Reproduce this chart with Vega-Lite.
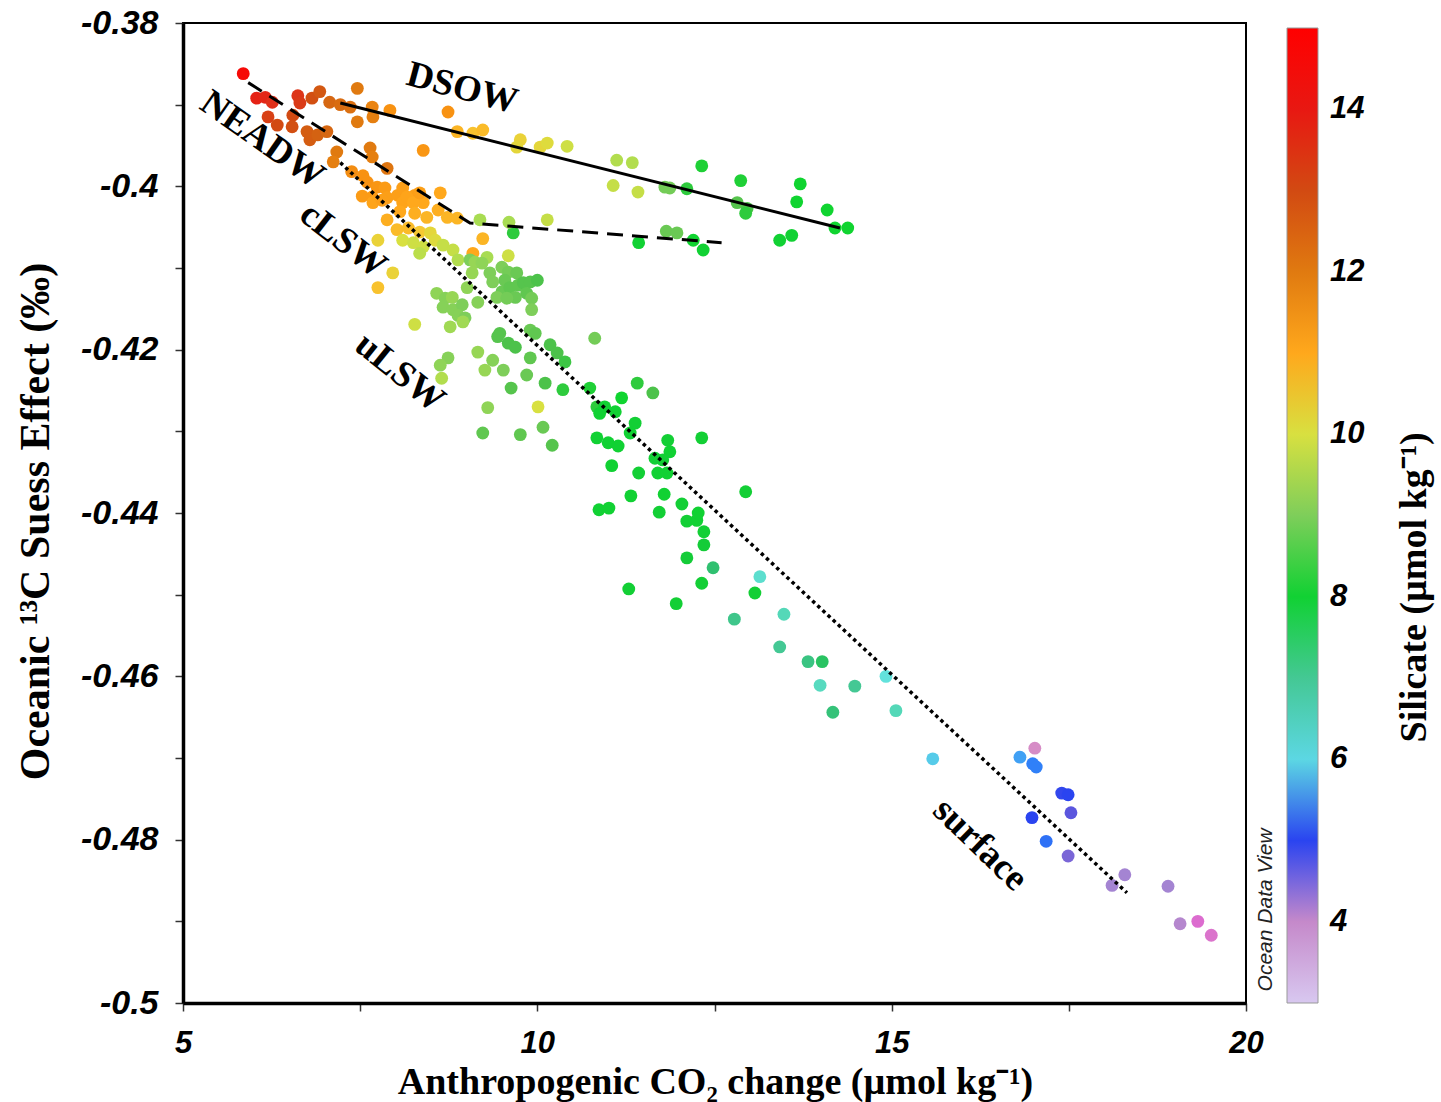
{
  "$schema": "https://vega.github.io/schema/vega-lite/v6.json",
  "autosize": {"type": "none"},
  "width": 1063,
  "height": 980,
  "padding": {"left": 183, "top": 23, "right": 195, "bottom": 99},
  "background": "white",
  "config": {
    "view": {"stroke": "black", "strokeWidth": 2},
    "axis": {
      "grid": false,
      "domainColor": "black",
      "domainWidth": 3.5,
      "tickColor": "#333",
      "tickWidth": 1.5,
      "tickSize": 8,
      "labelFlush": false,
      "labelFont": "Liberation Sans",
      "labelFontStyle": "italic",
      "labelFontWeight": "bold",
      "labelFontSize": 32,
      "labelColor": "black",
      "titleFont": "Liberation Serif",
      "titleFontWeight": "bold",
      "titleFontSize": 40,
      "titleColor": "black"
    }
  },
  "datasets": {
    "points": [
      {"co2":5.85,"suess":-0.3862,"si":14.6},{"co2":6.04,"suess":-0.3892,"si":13.8},{"co2":6.16,"suess":-0.3891,"si":13.7},{"co2":6.26,"suess":-0.3897,"si":13.5},
      {"co2":6.62,"suess":-0.3889,"si":13.4},{"co2":6.65,"suess":-0.3898,"si":13.3},{"co2":6.82,"suess":-0.3892,"si":12.9},{"co2":6.93,"suess":-0.3884,"si":12.7},
      {"co2":7.07,"suess":-0.3897,"si":12.4},{"co2":7.22,"suess":-0.39,"si":12.3},{"co2":7.36,"suess":-0.3903,"si":12.2},{"co2":7.46,"suess":-0.388,"si":12.0},
      {"co2":7.67,"suess":-0.3903,"si":11.8},{"co2":7.68,"suess":-0.3915,"si":11.9},{"co2":7.92,"suess":-0.3907,"si":11.5},{"co2":7.46,"suess":-0.3921,"si":12.0},
      {"co2":6.2,"suess":-0.3915,"si":13.2},{"co2":6.33,"suess":-0.3925,"si":13.0},{"co2":6.55,"suess":-0.3913,"si":13.0},{"co2":6.54,"suess":-0.3927,"si":12.9},
      {"co2":6.75,"suess":-0.3933,"si":12.6},{"co2":6.79,"suess":-0.3943,"si":12.6},{"co2":6.9,"suess":-0.3937,"si":12.5},{"co2":7.03,"suess":-0.3933,"si":12.4},
      {"co2":7.17,"suess":-0.3958,"si":12.0},{"co2":7.12,"suess":-0.397,"si":11.9},{"co2":7.64,"suess":-0.3953,"si":12.0},{"co2":7.67,"suess":-0.3964,"si":11.9},
      {"co2":7.88,"suess":-0.3978,"si":12.1},{"co2":8.39,"suess":-0.3956,"si":11.4},{"co2":7.38,"suess":-0.3982,"si":11.6},{"co2":7.54,"suess":-0.3987,"si":11.5},
      {"co2":7.6,"suess":-0.3995,"si":11.5},{"co2":7.53,"suess":-0.4012,"si":11.3},{"co2":7.74,"suess":-0.4001,"si":11.4},{"co2":7.85,"suess":-0.4002,"si":11.3},
      {"co2":7.67,"suess":-0.4013,"si":11.3},{"co2":7.88,"suess":-0.4014,"si":11.2},{"co2":8.03,"suess":-0.4011,"si":11.2},{"co2":8.1,"suess":-0.402,"si":11.1},
      {"co2":8.27,"suess":-0.4011,"si":11.2},{"co2":8.39,"suess":-0.402,"si":11.0},{"co2":7.68,"suess":-0.402,"si":11.1},{"co2":7.81,"suess":-0.4017,"si":11.2},
      {"co2":8.1,"suess":-0.4002,"si":11.2},{"co2":8.16,"suess":-0.4013,"si":11.1},{"co2":8.25,"suess":-0.402,"si":11.0},{"co2":8.27,"suess":-0.4033,"si":10.9},
      {"co2":8.34,"suess":-0.4008,"si":11.2},{"co2":8.44,"suess":-0.4038,"si":10.8},{"co2":8.63,"suess":-0.4008,"si":11.0},{"co2":8.6,"suess":-0.4029,"si":10.9},
      {"co2":8.73,"suess":-0.4038,"si":10.8},{"co2":8.87,"suess":-0.4039,"si":10.8},{"co2":8.06,"suess":-0.4031,"si":11.0},{"co2":7.88,"suess":-0.4041,"si":10.9},
      {"co2":8.02,"suess":-0.4053,"si":10.7},{"co2":8.18,"suess":-0.4051,"si":10.7},{"co2":8.34,"suess":-0.4056,"si":10.5},{"co2":7.75,"suess":-0.4066,"si":10.3},
      {"co2":8.1,"suess":-0.4066,"si":10.0},{"co2":8.25,"suess":-0.4069,"si":9.9},{"co2":8.49,"suess":-0.4057,"si":10.2},{"co2":8.56,"suess":-0.4066,"si":10.1},
      {"co2":8.67,"suess":-0.4072,"si":9.8},{"co2":8.39,"suess":-0.4074,"si":9.9},{"co2":8.34,"suess":-0.4082,"si":9.7},{"co2":8.81,"suess":-0.4078,"si":9.8},
      {"co2":8.88,"suess":-0.409,"si":9.6},{"co2":9.19,"suess":-0.4041,"si":9.5},{"co2":9.23,"suess":-0.4064,"si":10.8},{"co2":9.09,"suess":-0.4082,"si":11.0},
      {"co2":9.05,"suess":-0.409,"si":9.0},{"co2":9.29,"suess":-0.4087,"si":9.5},{"co2":7.96,"suess":-0.4106,"si":10.3},{"co2":7.75,"suess":-0.4124,"si":10.6},
      {"co2":8.27,"suess":-0.4169,"si":9.9},
      {"co2":9.59,"suess":-0.4085,"si":9.9},{"co2":9.12,"suess":-0.4093,"si":9.3},{"co2":9.22,"suess":-0.4094,"si":9.2},{"co2":9.08,"suess":-0.4106,"si":9.3},
      {"co2":9.01,"suess":-0.4124,"si":9.2},{"co2":9.33,"suess":-0.4106,"si":9.0},{"co2":9.5,"suess":-0.4099,"si":9.0},{"co2":9.59,"suess":-0.4105,"si":8.9},
      {"co2":9.71,"suess":-0.4106,"si":8.8},{"co2":9.54,"suess":-0.4115,"si":8.8},{"co2":9.37,"suess":-0.4117,"si":9.0},{"co2":9.5,"suess":-0.4129,"si":8.8},
      {"co2":9.61,"suess":-0.4124,"si":8.7},{"co2":9.73,"suess":-0.4121,"si":8.7},{"co2":9.8,"suess":-0.4118,"si":8.6},{"co2":9.9,"suess":-0.4117,"si":8.6},
      {"co2":10.0,"suess":-0.4115,"si":8.5},{"co2":9.69,"suess":-0.4136,"si":8.8},{"co2":9.85,"suess":-0.4131,"si":8.7},{"co2":9.43,"suess":-0.4136,"si":9.0},
      {"co2":9.57,"suess":-0.4137,"si":8.9},{"co2":9.66,"suess":-0.4057,"si":8.3},{"co2":9.92,"suess":-0.4137,"si":8.9},{"co2":9.92,"suess":-0.4151,"si":9.0},
      {"co2":8.58,"suess":-0.4131,"si":9.2},{"co2":8.7,"suess":-0.4137,"si":9.1},{"co2":8.8,"suess":-0.4136,"si":9.3},{"co2":8.67,"suess":-0.4148,"si":9.1},
      {"co2":8.81,"suess":-0.4151,"si":9.1},{"co2":8.94,"suess":-0.4145,"si":9.0},{"co2":8.88,"suess":-0.4158,"si":9.1},{"co2":8.98,"suess":-0.4161,"si":9.0},
      {"co2":9.16,"suess":-0.4142,"si":9.1},{"co2":8.77,"suess":-0.4172,"si":9.4},{"co2":9.9,"suess":-0.4176,"si":8.8},{"co2":9.97,"suess":-0.418,"si":8.7},
      {"co2":9.47,"suess":-0.418,"si":8.6},
      {"co2":8.95,"suess":-0.4166,"si":9.4},{"co2":9.44,"suess":-0.4184,"si":8.6},{"co2":9.59,"suess":-0.4192,"si":8.5},{"co2":9.69,"suess":-0.4197,"si":8.5},
      {"co2":10.18,"suess":-0.4194,"si":8.5},{"co2":10.28,"suess":-0.4204,"si":8.5},{"co2":10.39,"suess":-0.4215,"si":8.4},{"co2":10.81,"suess":-0.4186,"si":8.9},
      {"co2":9.9,"suess":-0.421,"si":8.7},{"co2":9.16,"suess":-0.4203,"si":9.3},{"co2":9.37,"suess":-0.4213,"si":9.1},{"co2":9.26,"suess":-0.4225,"si":9.3},
      {"co2":9.52,"suess":-0.4225,"si":9.0},{"co2":8.74,"suess":-0.421,"si":9.1},{"co2":8.63,"suess":-0.4219,"si":9.2},{"co2":8.65,"suess":-0.4235,"si":9.6},
      {"co2":9.85,"suess":-0.4231,"si":8.8},{"co2":10.11,"suess":-0.4241,"si":8.5},{"co2":10.36,"suess":-0.4249,"si":8.3},{"co2":10.74,"suess":-0.4247,"si":8.2},
      {"co2":9.63,"suess":-0.4247,"si":8.6},{"co2":9.3,"suess":-0.4271,"si":9.2},{"co2":10.01,"suess":-0.427,"si":10.0},{"co2":10.84,"suess":-0.427,"si":8.3},
      {"co2":9.23,"suess":-0.4302,"si":8.7},{"co2":9.76,"suess":-0.4304,"si":8.7},{"co2":10.08,"suess":-0.4295,"si":8.8},{"co2":10.21,"suess":-0.4317,"si":8.6},
      {"co2":10.84,"suess":-0.4308,"si":8.0},
      {"co2":11.41,"suess":-0.4241,"si":8.3},{"co2":11.63,"suess":-0.4253,"si":8.5},{"co2":11.19,"suess":-0.4259,"si":8.1},{"co2":10.95,"suess":-0.427,"si":8.0},
      {"co2":11.1,"suess":-0.4276,"si":8.0},{"co2":10.88,"suess":-0.4278,"si":8.0},{"co2":11.38,"suess":-0.429,"si":7.9},{"co2":11.31,"suess":-0.4302,"si":8.0},
      {"co2":11.0,"suess":-0.4314,"si":8.0},{"co2":11.14,"suess":-0.4318,"si":8.0},{"co2":11.84,"suess":-0.4311,"si":7.9},{"co2":11.87,"suess":-0.4325,"si":8.0},
      {"co2":11.66,"suess":-0.4333,"si":7.9},{"co2":11.77,"suess":-0.4335,"si":7.9},{"co2":11.7,"suess":-0.4351,"si":8.0},{"co2":11.83,"suess":-0.4351,"si":8.0},
      {"co2":12.32,"suess":-0.4308,"si":7.9},{"co2":11.05,"suess":-0.4342,"si":8.0},{"co2":11.43,"suess":-0.4351,"si":7.9},{"co2":11.32,"suess":-0.4379,"si":8.0},
      {"co2":11.79,"suess":-0.4377,"si":8.0},{"co2":12.94,"suess":-0.4374,"si":7.9},{"co2":10.87,"suess":-0.4396,"si":8.0},{"co2":11.01,"suess":-0.4394,"si":8.0},
      {"co2":11.72,"suess":-0.4399,"si":7.9},{"co2":12.04,"suess":-0.4389,"si":7.9},{"co2":12.11,"suess":-0.441,"si":7.9},{"co2":12.25,"suess":-0.4409,"si":8.0},
      {"co2":12.27,"suess":-0.44,"si":8.0},{"co2":12.35,"suess":-0.4423,"si":7.9},{"co2":12.35,"suess":-0.4439,"si":7.8},{"co2":12.11,"suess":-0.4455,"si":7.8},
      {"co2":12.48,"suess":-0.4467,"si":7.4},{"co2":12.32,"suess":-0.4486,"si":7.9},{"co2":11.29,"suess":-0.4493,"si":7.9},{"co2":11.96,"suess":-0.4511,"si":7.9},
      {"co2":13.14,"suess":-0.4478,"si":6.3},{"co2":13.07,"suess":-0.4498,"si":7.9},{"co2":12.78,"suess":-0.453,"si":7.1},{"co2":13.48,"suess":-0.4524,"si":6.6},
      {"co2":8.74,"suess":-0.3909,"si":11.5},{"co2":8.87,"suess":-0.3933,"si":10.8},{"co2":9.09,"suess":-0.3935,"si":10.6},{"co2":9.23,"suess":-0.3931,"si":10.7},
      {"co2":9.76,"suess":-0.3943,"si":10.3},{"co2":9.71,"suess":-0.3952,"si":10.2},{"co2":10.04,"suess":-0.3952,"si":10.2},{"co2":10.14,"suess":-0.3947,"si":10.1},
      {"co2":10.42,"suess":-0.3951,"si":9.9},{"co2":11.12,"suess":-0.3968,"si":9.6},{"co2":11.34,"suess":-0.3971,"si":9.6},{"co2":11.07,"suess":-0.3999,"si":9.8},
      {"co2":11.42,"suess":-0.4007,"si":9.8},{"co2":12.32,"suess":-0.3975,"si":8.2},{"co2":11.8,"suess":-0.4001,"si":8.9},{"co2":11.87,"suess":-0.4002,"si":8.9},
      {"co2":12.11,"suess":-0.4003,"si":8.3},{"co2":12.87,"suess":-0.3993,"si":8.2},{"co2":12.82,"suess":-0.402,"si":8.6},{"co2":12.96,"suess":-0.4027,"si":8.5},
      {"co2":12.94,"suess":-0.4033,"si":8.3},{"co2":13.71,"suess":-0.3997,"si":8.1},{"co2":13.66,"suess":-0.4019,"si":8.1},{"co2":14.09,"suess":-0.4029,"si":8.1},
      {"co2":14.2,"suess":-0.4051,"si":8.1},{"co2":14.38,"suess":-0.4051,"si":8.1},{"co2":13.42,"suess":-0.4066,"si":8.0},{"co2":13.59,"suess":-0.406,"si":8.0},
      {"co2":11.82,"suess":-0.4055,"si":8.8},{"co2":11.97,"suess":-0.4057,"si":8.8},{"co2":11.43,"suess":-0.4069,"si":8.0},{"co2":12.2,"suess":-0.4066,"si":8.1},
      {"co2":12.34,"suess":-0.4078,"si":8.0},{"co2":10.14,"suess":-0.4041,"si":9.8},{"co2":9.6,"suess":-0.4044,"si":9.5},
      {"co2":13.42,"suess":-0.4564,"si":7.0},{"co2":13.82,"suess":-0.4582,"si":7.2},{"co2":14.02,"suess":-0.4582,"si":7.5},{"co2":13.99,"suess":-0.4611,"si":6.5},
      {"co2":14.48,"suess":-0.4612,"si":7.0},{"co2":14.17,"suess":-0.4644,"si":7.3},{"co2":14.92,"suess":-0.46,"si":6.1},{"co2":15.06,"suess":-0.4642,"si":6.6},
      {"co2":15.58,"suess":-0.4701,"si":5.9},{"co2":17.02,"suess":-0.4688,"si":3.9},{"co2":16.81,"suess":-0.4699,"si":5.6},{"co2":16.99,"suess":-0.4707,"si":5.4},
      {"co2":17.04,"suess":-0.4711,"si":5.4},{"co2":17.4,"suess":-0.4743,"si":4.95},{"co2":17.49,"suess":-0.4745,"si":5.0},{"co2":17.53,"suess":-0.4767,"si":4.7},
      {"co2":16.98,"suess":-0.4773,"si":5.0},{"co2":17.18,"suess":-0.4802,"si":5.3},{"co2":17.49,"suess":-0.482,"si":4.5},{"co2":18.11,"suess":-0.4856,"si":4.2},
      {"co2":18.29,"suess":-0.4843,"si":4.2},{"co2":18.9,"suess":-0.4857,"si":4.2},{"co2":19.07,"suess":-0.4903,"si":4.1},{"co2":19.32,"suess":-0.49,"si":3.5},
      {"co2":19.51,"suess":-0.4917,"si":3.6}
    ],
    "lines": [
      {"line":"DSOW","co2":7.22,"suess":-0.3898},{"line":"DSOW","co2":14.27,"suess":-0.4051},
      {"line":"NEADW","co2":5.92,"suess":-0.3873},{"line":"NEADW","co2":9.05,"suess":-0.4045},{"line":"NEADW","co2":12.6,"suess":-0.4069},
      {"line":"surface","co2":7.22,"suess":-0.3971},{"line":"surface","co2":18.32,"suess":-0.4865}
    ],
    "labels": [
      {"text":"DSOW","co2":8.94,"suess":-0.388,"angle":15},
      {"text":"NEADW","co2":6.12,"suess":-0.3943,"angle":35},
      {"text":"cLSW","co2":7.26,"suess":-0.4066,"angle":38},
      {"text":"uLSW","co2":8.06,"suess":-0.4228,"angle":39},
      {"text":"surface","co2":16.25,"suess":-0.4806,"angle":44}
    ],
    "odv": [
      {"text":"Ocean Data View","co2":20.28,"suess":-0.4886}
    ],
    "cbtitle": [
      {"text":"Silicate (µmol kg⁻¹)","co2":22.38,"suess":-0.4491}
    ]
  },
  "layer": [
    {
      "data": {"name": "points"},
      "mark": {"type": "circle", "size": 165, "opacity": 1},
      "encoding": {
        "x": {"field": "co2", "type": "quantitative",
          "scale": {"domain": [5, 20], "nice": false, "zero": false},
          "axis": {"values": [5, 7.5, 10, 12.5, 15, 17.5, 20],
            "labelExpr": "datum.value % 5 == 0 ? '' + datum.value : ''",
            "labelPadding": 17, "labelFontSize": 31,
            "title": "Anthropogenic CO₂ change (µmol kg⁻¹)",
            "titleFontSize": 38,
            "titleX": 532, "titleY": 79, "titleBaseline": "middle"}},
        "y": {"field": "suess", "type": "quantitative",
          "scale": {"domain": [-0.5, -0.38], "nice": false, "zero": false},
          "axis": {"values": [-0.5,-0.49,-0.48,-0.47,-0.46,-0.45,-0.44,-0.43,-0.42,-0.41,-0.4,-0.39,-0.38],
            "labelExpr": "abs(round(datum.value*100)) % 2 == 0 ? replace(format(datum.value, '.2~f'), '\u2212', '-') : ''",
            "labelPadding": 17, "labelFontSize": 34,
            "title": "Oceanic ¹³C Suess Effect (‰)",
            "titleFontSize": 42,
            "titleX": -148, "titleY": 498, "titleBaseline": "middle"}},
        "color": {"field": "si", "type": "quantitative",
          "scale": {
            "domain": [3, 3.25, 3.9, 4.2, 4.6, 5.0, 5.4, 5.8, 6.1, 6.6, 7.0, 7.4, 7.8, 8.1, 8.5, 9.0, 9.5, 10.0, 10.5, 11.0, 11.5, 12.0, 12.5, 13.0, 13.5, 14.0, 15.0],
            "range": ["#d8c8f0", "#e058d4", "#d68cc6", "#a484d2", "#6c5cd8", "#2a44f0", "#3080f8", "#50c0f0", "#62e2dc", "#54d8b8", "#44c894", "#30c070", "#14cc38", "#10d430", "#4cc24a", "#7ece5a", "#a8dc52", "#d8e040", "#f6c832", "#ffa81c", "#f89212", "#e07a10", "#d46212", "#d24a12", "#e0301a", "#e81812", "#ff0000"],
            "interpolate": "rgb"
          },
          "legend": {
            "orient": "none", "legendX": 1104, "legendY": 5,
            "direction": "vertical",
            "gradientLength": 975, "gradientThickness": 31,
            "gradientStrokeColor": "#999", "gradientStrokeWidth": 1,
            "values": [4, 6, 8, 10, 12, 14],
            "format": "d",
            "labelFont": "Liberation Sans", "labelFontStyle": "italic", "labelFontWeight": "bold",
            "labelFontSize": 31, "labelColor": "black", "labelOffset": 12,
            "padding": 0,
            "title": null
          }
        }
      }
    },
    {
      "data": {"name": "lines"},
      "transform": [{"filter": "datum.line == 'DSOW'"}],
      "mark": {"type": "line", "color": "black", "strokeWidth": 3},
      "encoding": {"x": {"field": "co2", "type": "quantitative"}, "y": {"field": "suess", "type": "quantitative"}}
    },
    {
      "data": {"name": "lines"},
      "transform": [{"filter": "datum.line == 'NEADW'"}],
      "mark": {"type": "line", "color": "black", "strokeWidth": 3, "strokeDash": [16, 9]},
      "encoding": {"x": {"field": "co2", "type": "quantitative"}, "y": {"field": "suess", "type": "quantitative"}}
    },
    {
      "data": {"name": "lines"},
      "transform": [{"filter": "datum.line == 'surface'"}],
      "mark": {"type": "line", "color": "black", "strokeWidth": 3.5, "strokeDash": [3.5, 3.5]},
      "encoding": {"x": {"field": "co2", "type": "quantitative"}, "y": {"field": "suess", "type": "quantitative"}}
    },
    {
      "data": {"name": "labels"},
      "mark": {"type": "text", "font": "Liberation Serif", "fontWeight": "bold", "fontSize": 37, "color": "black", "align": "center", "baseline": "middle"},
      "encoding": {
        "x": {"field": "co2", "type": "quantitative"},
        "y": {"field": "suess", "type": "quantitative"},
        "text": {"field": "text"},
        "angle": {"field": "angle", "type": "quantitative", "scale": null}
      }
    },
    {
      "data": {"name": "odv"},
      "mark": {"type": "text", "font": "Liberation Sans", "fontStyle": "italic", "fontSize": 21, "color": "#222", "angle": 270, "align": "center", "baseline": "middle"},
      "encoding": {
        "x": {"field": "co2", "type": "quantitative"},
        "y": {"field": "suess", "type": "quantitative"},
        "text": {"field": "text"}
      }
    },
    {
      "data": {"name": "cbtitle"},
      "mark": {"type": "text", "font": "Liberation Serif", "fontWeight": "bold", "fontSize": 38, "color": "black", "angle": 270, "align": "center", "baseline": "middle"},
      "encoding": {
        "x": {"field": "co2", "type": "quantitative"},
        "y": {"field": "suess", "type": "quantitative"},
        "text": {"field": "text"}
      }
    }
  ]
}
